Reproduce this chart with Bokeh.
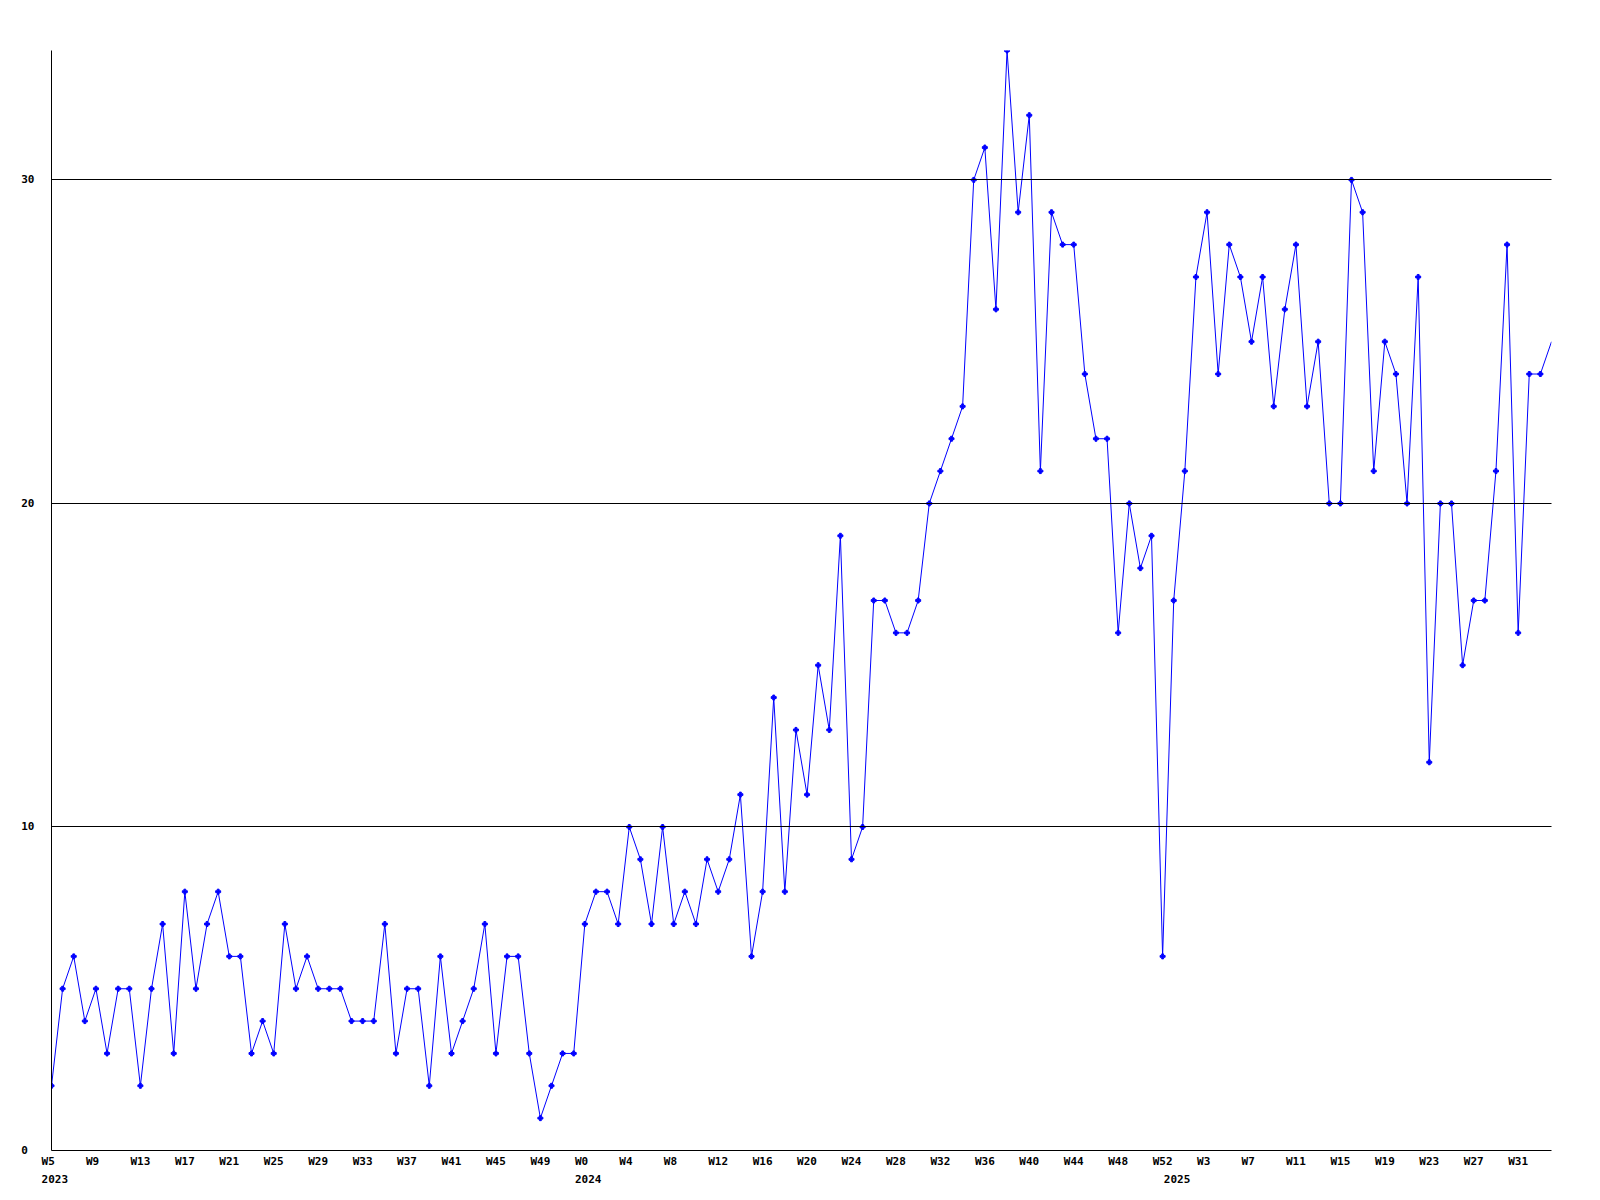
from bokeh.plotting import figure
from bokeh.models import Range1d, FixedTicker, LinearAxis, ColumnDataSource
from bokeh.embed import file_html
from bokeh.resources import INLINE

# ---- data -------------------------------------------------------------
values = [
    2, 5, 6, 4, 5, 3, 5, 5, 2, 5,
    7, 3, 8, 5, 7, 8, 6, 6, 3, 4,
    3, 7, 5, 6, 5, 5, 5, 4, 4, 4,
    7, 3, 5, 5, 2, 6, 3, 4, 5, 7,
    3, 6, 6, 3, 1, 2, 3, 3, 7, 8,
    8, 7, 10, 9, 7, 10, 7, 8, 7, 9,
    8, 9, 11, 6, 8, 14, 8, 13, 11, 15,
    13, 19, 9, 10, 17, 17, 16, 16, 17, 20,
    21, 22, 23, 30, 31, 26, 34, 29, 32, 21,
    29, 28, 28, 24, 22, 22, 16, 20, 18, 19,
    6, 17, 21, 27, 29, 24, 28, 27, 25, 27,
    23, 26, 28, 23, 25, 20, 20, 30, 29, 21,
    25, 24, 20, 27, 12, 20, 20, 15, 17, 17,
    21, 28, 16, 24, 24, 25,
]
week_tick_labels = [
    "W5", "W9", "W13", "W17", "W21", "W25", "W29", "W33", "W37", "W41", "W45", "W49",
    "W0", "W4", "W8", "W12", "W16", "W20", "W24", "W28", "W32", "W36", "W40", "W44", "W48", "W52",
    "W3", "W7", "W11", "W15", "W19", "W23", "W27", "W31",
]
year_labels = ["2023", "2024", "2025"]
year_start_index = [0, 48, 101]
y_tick_values = [0, 10, 20, 30]

# ---- build -------------------------------------------------------------
idx = list(range(len(values)))
src_line = ColumnDataSource(dict(x=idx, y=values))
src_mark = ColumnDataSource(dict(x=idx[:-1], y=values[:-1]))

FONT = "DejaVu Sans Mono"
FS = "11px"
BLUE = "#0000ff"
NB = "\u00a0"

p = figure(
    width=1588, height=1188,
    x_range=Range1d(0, len(values) - 1), y_range=Range1d(0, 34),
    output_backend="svg", toolbar_location=None,
    min_border_left=51, min_border_top=50, min_border_bottom=38, min_border_right=37,
)
p.outline_line_color = None
p.background_fill_color = "white"
p.border_fill_color = "white"

p.line("x", "y", source=src_line, line_color=BLUE, line_width=1)
p.scatter("x", "y", source=src_mark, marker="plus", size=5, color=BLUE)

# grid
p.xgrid.visible = False
p.ygrid.ticker = FixedTicker(ticks=[10, 20, 30])
p.ygrid.grid_line_color = "black"
p.ygrid.grid_line_width = 1
p.ygrid.level = "overlay"

# y axis
ya = p.yaxis[0]
ya.ticker = FixedTicker(ticks=y_tick_values)
ya.major_label_overrides = {v: (str(v) + NB * (2 - len(str(v)))) for v in y_tick_values}
ya.major_tick_out = 0
ya.major_tick_in = 0
ya.minor_tick_out = 0
ya.minor_tick_in = 0
ya.major_label_standoff = 17
ya.axis_line_color = "black"
ya.major_label_text_font = FONT
ya.major_label_text_font_style = "bold"
ya.major_label_text_font_size = FS
ya.major_label_text_color = "black"

# week x axis
week_ticks = list(range(0, len(values), 4))[:len(week_tick_labels)]
xa = p.xaxis[0]
xa.ticker = FixedTicker(ticks=week_ticks)
xa.major_label_overrides = {t: lab + NB * max(0, 3 - len(lab)) for t, lab in zip(week_ticks, week_tick_labels)}
xa.major_tick_out = 0
xa.major_tick_in = 0
xa.minor_tick_out = 0
xa.minor_tick_in = 0
xa.major_label_standoff = 4
xa.axis_line_color = "black"
xa.major_label_text_font = FONT
xa.major_label_text_font_style = "bold"
xa.major_label_text_font_size = FS
xa.major_label_text_color = "black"

# year x axis
ya2 = LinearAxis(
    ticker=FixedTicker(ticks=year_start_index),
    major_label_overrides={t: NB + lab for t, lab in zip(year_start_index, year_labels)},
    axis_line_color=None,
    major_tick_out=0, major_tick_in=0, minor_tick_out=0, minor_tick_in=0,
    major_label_standoff=2,
    major_label_text_font=FONT,
    major_label_text_font_style="bold",
    major_label_text_font_size=FS,
    major_label_text_color="black",
)
p.add_layout(ya2, "below")

open("out.html", "w").write(file_html(p, INLINE))
